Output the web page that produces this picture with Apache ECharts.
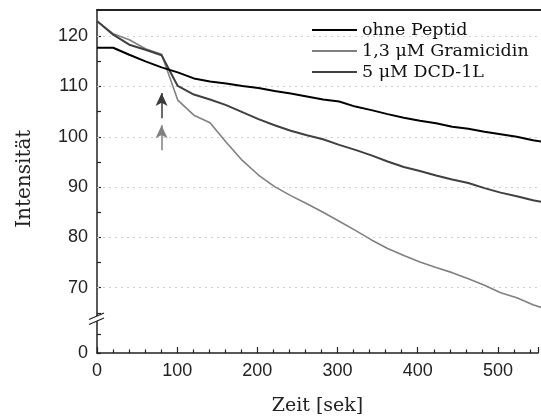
<!DOCTYPE html>
<html>
<head>
<meta charset="utf-8">
<script src="https://cdn.jsdelivr.net/npm/echarts@6/dist/echarts.min.js"></script>
<style>html,body{margin:0;padding:0;background:#fff}#c{width:541px;height:417px}</style>
</head>
<body>
<div id="c"></div>
<script>
// Data
var seriesNames = ['ohne Peptid', '1,3 \u03bcM Gramicidin', '5 \u03bcM DCD-1L'];
var time = [0,20,40,60,80,100,120,140,160,180,200,220,240,260,280,300,320,340,360,380,400,420,440,460,480,500,520,540,560];
var ohnePeptid = [117.7,117.7,116.3,115.0,113.8,112.8,111.6,111.0,110.6,110.1,109.7,109.1,108.6,108.0,107.4,107.0,106.0,105.3,104.5,103.8,103.2,102.7,102.0,101.6,101.0,100.5,100.0,99.3,98.8];
var gramicidin = [123.0,120.5,119.3,117.5,116.4,107.3,104.3,102.8,98.9,95.3,92.4,90.1,88.3,86.7,85.0,83.2,81.4,79.5,77.8,76.4,75.1,74.0,73.0,71.8,70.5,69.0,68.0,66.6,65.6];
var dcd = [123.0,120.3,118.3,117.3,116.2,110.1,108.4,107.4,106.3,104.9,103.5,102.3,101.2,100.3,99.5,98.4,97.4,96.3,95.1,94.0,93.2,92.3,91.5,90.8,89.8,88.9,88.2,87.4,86.8];
var arrowDark = [[80,103.7],[80,108.7]];
var arrowLight = [[80,97.3],[80,102.3]];
var yLabelsUpper = [70,80,90,100,110,120];
var yTicksUpper = [65,70,75,80,85,90,95,100,105,110,115,120];
var xMax = 550;

function pairs(xs, ys){ return xs.map(function(x,i){return [x, ys[i]];}); }

var chart = echarts.init(document.getElementById('c'), null, {renderer:'canvas'});
var sansFont = 'Liberation Sans';
var serifFont = 'DejaVu Serif';
var lineIcon = 'path://M0,0H45V2H0Z';
var option = {
  animation: false,
  backgroundColor: '#fff',
  legend: {
    left: 312, top: 21, orient: 'vertical', padding: 0,
    itemWidth: 45, itemHeight: 2, itemGap: 3,
    textStyle: {fontFamily: serifFont, fontSize: 17.5, color: '#111', padding:[0,0,0,0]},
    data: seriesNames.map(function(n){ return {name:n, icon:lineIcon}; })
  },
  grid: [
    {left: 97, right: -2, top: 10, bottom: 101.6},
    {left: 97, right: -2, top: 315.4, bottom: 64}
  ],
  xAxis: [
    {type:'value', gridIndex:0, min:0, max:xMax, position:'top',
     axisLine:{show:true, lineStyle:{color:'#222', width:2}},
     axisTick:{show:false}, axisLabel:{show:false}, splitLine:{show:false}},
    {type:'value', gridIndex:1, min:0, max:xMax, interval:100,
     name:'Zeit [sek]', nameLocation:'middle', nameGap:44,
     nameTextStyle:{fontFamily:serifFont, fontSize:19, color:'#222'},
     axisLine:{show:true, onZero:false, lineStyle:{color:'#222', width:1.5}},
     axisTick:{show:true, inside:true, length:6, lineStyle:{color:'#222', width:1.2}},
     minorTick:{show:true, splitNumber:5, length:3.5, lineStyle:{color:'#222', width:1.2}},
     axisLabel:{fontFamily:sansFont, fontSize:18, color:'#222', margin:9,
       formatter:function(v){ return (v % 100 === 0) ? String(v) : ''; }},
     splitLine:{show:false}}
  ],
  yAxis: [
    {type:'value', gridIndex:0, min:64.5, max:125.2,
     name:'Intensit\u00e4t', nameLocation:'middle', nameGap:62,
     nameTextStyle:{fontFamily:serifFont, fontSize:20, color:'#222', padding:[0,32,0,0]},
     axisLine:{show:true, onZero:false, lineStyle:{color:'#222', width:1.5}},
     axisTick:{show:true, inside:true, length:4, customValues:yTicksUpper, lineStyle:{color:'#222', width:1.2}},
     axisLabel:{customValues:yLabelsUpper, fontFamily:sansFont, fontSize:18, color:'#222', margin:9},
     splitLine:{show:false}},
    {type:'value', gridIndex:1, min:0, max:10, interval:5,
     axisLine:{show:true, onZero:false, lineStyle:{color:'#222', width:1.5}},
     axisTick:{show:true, inside:true, length:4, lineStyle:{color:'#222', width:1.2}},
     axisLabel:{fontFamily:sansFont, fontSize:18, color:'#222', margin:9,
       formatter:function(v){ return v === 0 ? '0' : ''; }},
     splitLine:{show:false}}
  ],
  series: [
    {name: seriesNames[0], type:'line', xAxisIndex:0, yAxisIndex:0, data: pairs(time, ohnePeptid),
     symbol:'none', lineStyle:{color:'#000', width:2}, itemStyle:{color:'#000'}, z:5,
     markLine:{silent:true, symbol:['none','none'], label:{show:false},
       lineStyle:{color:'#d0d0d0', type:[2,4], width:1},
       data: yLabelsUpper.map(function(v){return {yAxis:v};}), z:1}},
    {name: seriesNames[1], type:'line', xAxisIndex:0, yAxisIndex:0, data: pairs(time, gramicidin),
     symbol:'none', lineStyle:{color:'#808080', width:1.6}, itemStyle:{color:'#808080'}, z:3,
     markLine:{silent:true, symbol:['none','arrow'], symbolSize:[9,13], label:{show:false},
       lineStyle:{color:'#808080', type:'solid', width:1.5},
       data:[[{coord:arrowLight[0]},{coord:arrowLight[1]}]]}},
    {name: seriesNames[2], type:'line', xAxisIndex:0, yAxisIndex:0, data: pairs(time, dcd),
     symbol:'none', lineStyle:{color:'#404040', width:2}, itemStyle:{color:'#404040'}, z:4,
     markLine:{silent:true, symbol:['none','arrow'], symbolSize:[9,13], label:{show:false},
       lineStyle:{color:'#3a3a3a', type:'solid', width:1.5},
       data:[[{coord:arrowDark[0]},{coord:arrowDark[1]}]]}}
  ],
  graphic: [
    {type:'polygon', shape:{points:[[89,319],[104,313],[104,318],[89,324]]}, style:{fill:'#fff'}, z:100},
    {type:'line', shape:{x1:89, y1:319.5, x2:104, y2:313}, style:{stroke:'#222', lineWidth:1.3}, z:101},
    {type:'line', shape:{x1:89, y1:324.5, x2:104, y2:318}, style:{stroke:'#222', lineWidth:1.3}, z:101}
  ]
};
chart.setOption(option);
</script>
</body>
</html>
